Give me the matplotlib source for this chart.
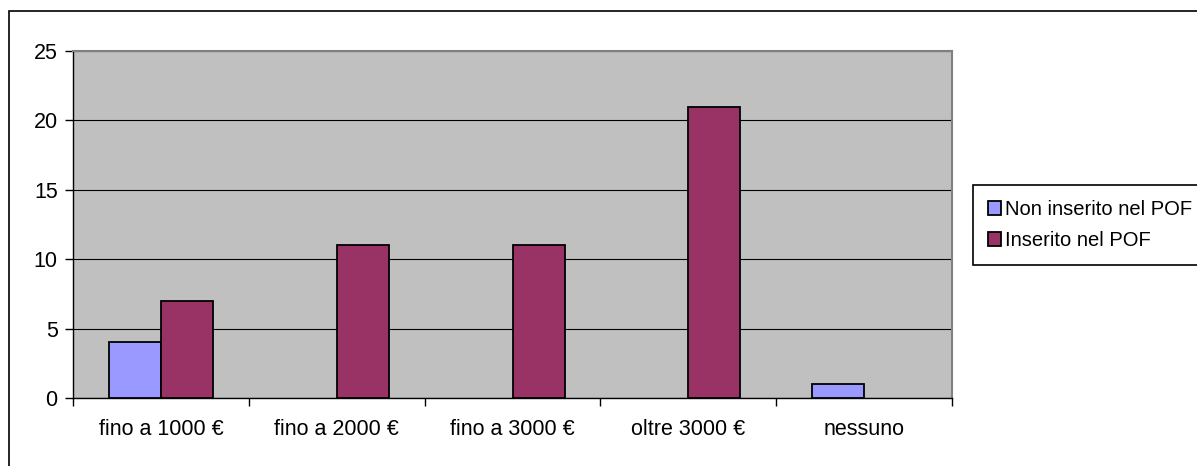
import matplotlib
matplotlib.use("Agg")
import matplotlib.pyplot as plt
import numpy as np
from matplotlib.patches import Rectangle

plt.rcParams['font.family'] = ['Liberation Sans', 'DejaVu Sans']

categorie = ['fino a 1000 €', 'fino a 2000 €', 'fino a 3000 €', 'oltre 3000 €', 'nessuno']
non_inserito = [4, 0, 0, 0, 1]
inserito = [7, 11, 11, 21, 0]
serie = ['Non inserito nel POF', 'Inserito nel POF']

BLU = '#9999FF'
BORDEAUX = '#993366'
GRIGIO = '#C0C0C0'

fig = plt.figure(figsize=(11.97, 4.66), dpi=100)
ax = fig.add_axes((73 / 1197, 1 - 398 / 466, 879 / 1197, 347 / 466))
ax.set_facecolor(GRIGIO)

x = np.arange(len(categorie))
w = 0.296
b1 = ax.bar(x - w / 2, non_inserito, w, color=BLU, edgecolor='black', linewidth=1.3, zorder=3)
b2 = ax.bar(x + w / 2, inserito, w, color=BORDEAUX, edgecolor='black', linewidth=1.3, zorder=3)
# le barre a zero non si vedono
for barre in (b1, b2):
    for r in barre:
        if r.get_height() == 0:
            r.set_visible(False)

ax.set_xlim(-0.5, len(categorie) - 0.5)
ax.set_ylim(0, 25)
ax.set_yticks([0, 5, 10, 15, 20, 25])
ax.yaxis.grid(True, color='black', linewidth=0.8, zorder=1)
ax.set_axisbelow(True)

# tick di categoria sui confini, etichette al centro
ax.set_xticks(np.arange(-0.5, len(categorie)), minor=False)
ax.set_xticklabels([])
ax.set_xticks(x, minor=True)
ax.set_xticklabels(categorie, minor=True)
ax.tick_params(axis='x', which='minor', length=0, pad=15, labelsize=15.5)
ax.tick_params(axis='x', which='major', length=6, width=1, direction='out')
ax.tick_params(axis='y', length=6, width=1, direction='out', labelsize=15.5, pad=5)

for s in ['left', 'bottom']:
    ax.spines[s].set_color('black')
    ax.spines[s].set_linewidth(1)
for s in ['top', 'right']:
    ax.spines[s].set_color('#808080')
    ax.spines[s].set_linewidth(1.5)

leg = fig.legend([b1, b2], serie, loc='upper left',
                 bbox_to_anchor=(973 / 1197, 1 - 185 / 466),
                 fontsize=14.5, frameon=True, fancybox=False,
                 handlelength=0.65, handleheight=0.65, handletextpad=0.2,
                 labelspacing=0.6, borderpad=0.75, borderaxespad=0)
leg.get_frame().set_edgecolor('black')
leg.get_frame().set_linewidth(1.2)
leg.get_frame().set_alpha(None)

# cornice esterna del grafico
fig.patches.append(Rectangle((9 / 1197, -0.1), 1.2, 1 - 11 / 466 + 0.1,
                             transform=fig.transFigure, fill=False,
                             edgecolor='black', linewidth=1.2))

fig.savefig('out.png', dpi=100)
